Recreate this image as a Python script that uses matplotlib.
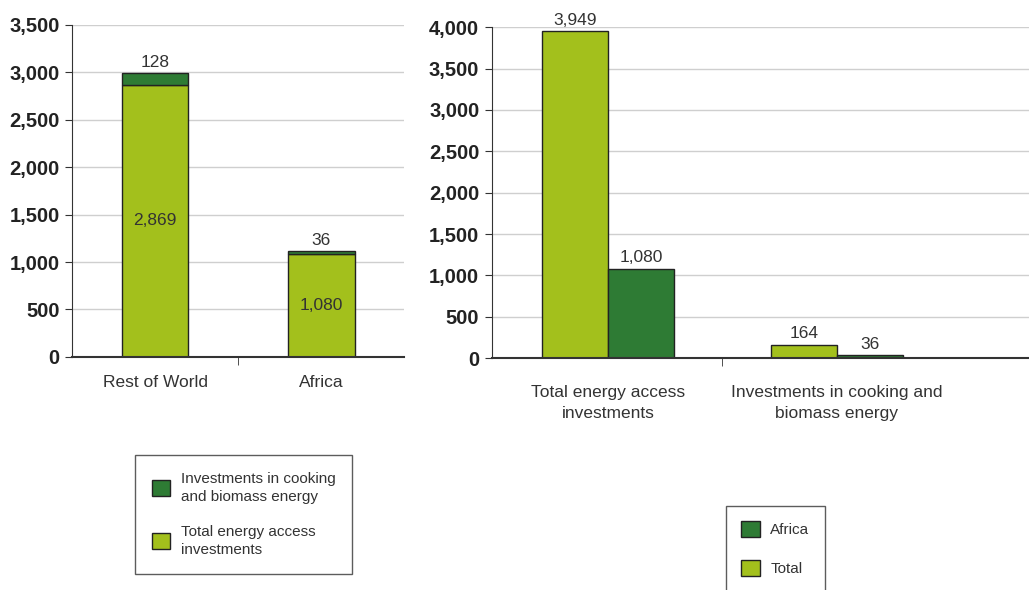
import numpy as np
import matplotlib
matplotlib.use("Agg")
import matplotlib.pyplot as plt
from matplotlib.patches import Patch
import matplotlib.ticker as tick

# datos del grafico izquierdo (apilado)
regiones = ["Rest of World", "Africa"]
total_acceso = [2869, 1080]
cocina_biomasa = [128, 36]

# datos del grafico derecho (agrupado)
categorias = ["Total energy access\ninvestments", "Investments in cooking and\nbiomass energy"]
valores_total = [3949, 164]
valores_africa = [1080, 36]

verde_claro = "#a3c01c"
verde_oscuro = "#2e7b34"
gris_texto = "#333333"

plt.rcParams["font.family"] = ["Liberation Sans", "DejaVu Sans"]

fig = plt.figure(figsize=(10.29, 5.9), dpi=100)
ax1 = fig.add_axes([0.070, 0.395, 0.323, 0.563])
ax2 = fig.add_axes([0.478, 0.393, 0.522, 0.561])


def estilo_ejes(ax, ymax):
    ax.set_ylim(0, ymax)
    ax.yaxis.set_major_locator(tick.MultipleLocator(500))
    ax.yaxis.set_major_formatter(tick.FuncFormatter(lambda v, p: f"{int(v):,}"))
    ax.grid(axis="y", color="#cfcfcf", linewidth=1)
    ax.set_axisbelow(True)
    for s in ["top", "right"]:
        ax.spines[s].set_visible(False)
    ax.spines["left"].set_color(gris_texto)
    ax.spines["bottom"].set_color(gris_texto)
    ax.spines["bottom"].set_linewidth(1.5)
    ax.tick_params(axis="y", length=5, labelsize=14.5, pad=4, color=gris_texto,
                   labelcolor="#222222")
    for lab in ax.get_yticklabels():
        lab.set_fontweight("bold")
    # marca del eje x entre categorias
    ax.set_xticks([0.5], minor=True)
    ax.tick_params(axis="x", which="minor", length=6, color=gris_texto)
    ax.tick_params(axis="x", which="major", length=0, labelsize=12.5, colors=gris_texto)


# grafico izquierdo
x1 = np.arange(len(regiones))
ax1.bar(x1, total_acceso, width=0.4, color=verde_claro, edgecolor="#222222", linewidth=1)
ax1.bar(x1, cocina_biomasa, width=0.4, bottom=total_acceso, color=verde_oscuro,
        edgecolor="#222222", linewidth=1)
estilo_ejes(ax1, 3500)
ax1.set_xlim(-0.5, 1.5)
ax1.set_xticks(x1)
ax1.set_xticklabels(regiones)
ax1.tick_params(axis="x", which="major", pad=13)
for i in range(len(regiones)):
    ax1.text(x1[i], total_acceso[i] / 2, f"{total_acceso[i]:,}", ha="center", va="center",
             fontsize=12.5, color=gris_texto)
    ax1.text(x1[i], total_acceso[i] + cocina_biomasa[i] + 30, f"{cocina_biomasa[i]:,}",
             ha="center", va="bottom", fontsize=12.5, color=gris_texto)

# grafico derecho
x2 = np.arange(len(categorias))
w = 0.288
ax2.bar(x2 - w / 2, valores_total, width=w, color=verde_claro, edgecolor="#222222", linewidth=1)
ax2.bar(x2 + w / 2, valores_africa, width=w, color=verde_oscuro, edgecolor="#222222", linewidth=1)
estilo_ejes(ax2, 4000)
ax2.set_xlim(-0.507, 1.84)
ax2.set_xticks(x2)
ax2.set_xticklabels(categorias, linespacing=1.5)
ax2.tick_params(axis="x", which="major", pad=19)
for i in range(len(categorias)):
    ax2.text(x2[i] - w / 2, valores_total[i] + 40, f"{valores_total[i]:,}", ha="center",
             va="bottom", fontsize=12.5, color=gris_texto)
    ax2.text(x2[i] + w / 2, valores_africa[i] + 40, f"{valores_africa[i]:,}", ha="center",
             va="bottom", fontsize=12.5, color=gris_texto)

# leyendas
h1 = [Patch(facecolor=verde_oscuro, edgecolor="#222222", label="Investments in cooking\nand biomass energy"),
      Patch(facecolor=verde_claro, edgecolor="#222222", label="Total energy access\ninvestments")]
leg1 = fig.legend(handles=h1, loc="upper left", bbox_to_anchor=(135 / 1029, 1 - 455 / 590),
                  borderaxespad=0, frameon=True, fancybox=False, edgecolor=gris_texto,
                  fontsize=11, handlelength=1.2, handleheight=1.2, labelspacing=1.4,
                  borderpad=1.1, handletextpad=0.7, labelcolor=gris_texto)
for t in leg1.get_texts():
    t.set_linespacing(1.35)
h2 = [Patch(facecolor=verde_oscuro, edgecolor="#222222", label="Africa"),
      Patch(facecolor=verde_claro, edgecolor="#222222", label="Total")]
fig.legend(handles=h2, loc="upper left", bbox_to_anchor=(726 / 1029, 1 - 506 / 590),
           borderaxespad=0, frameon=True, fancybox=False, edgecolor=gris_texto,
           fontsize=11, handlelength=1.2, handleheight=1.2, labelspacing=1.5,
           borderpad=1.0, handletextpad=0.7, labelcolor=gris_texto)

plt.savefig("out.png", dpi=100)
